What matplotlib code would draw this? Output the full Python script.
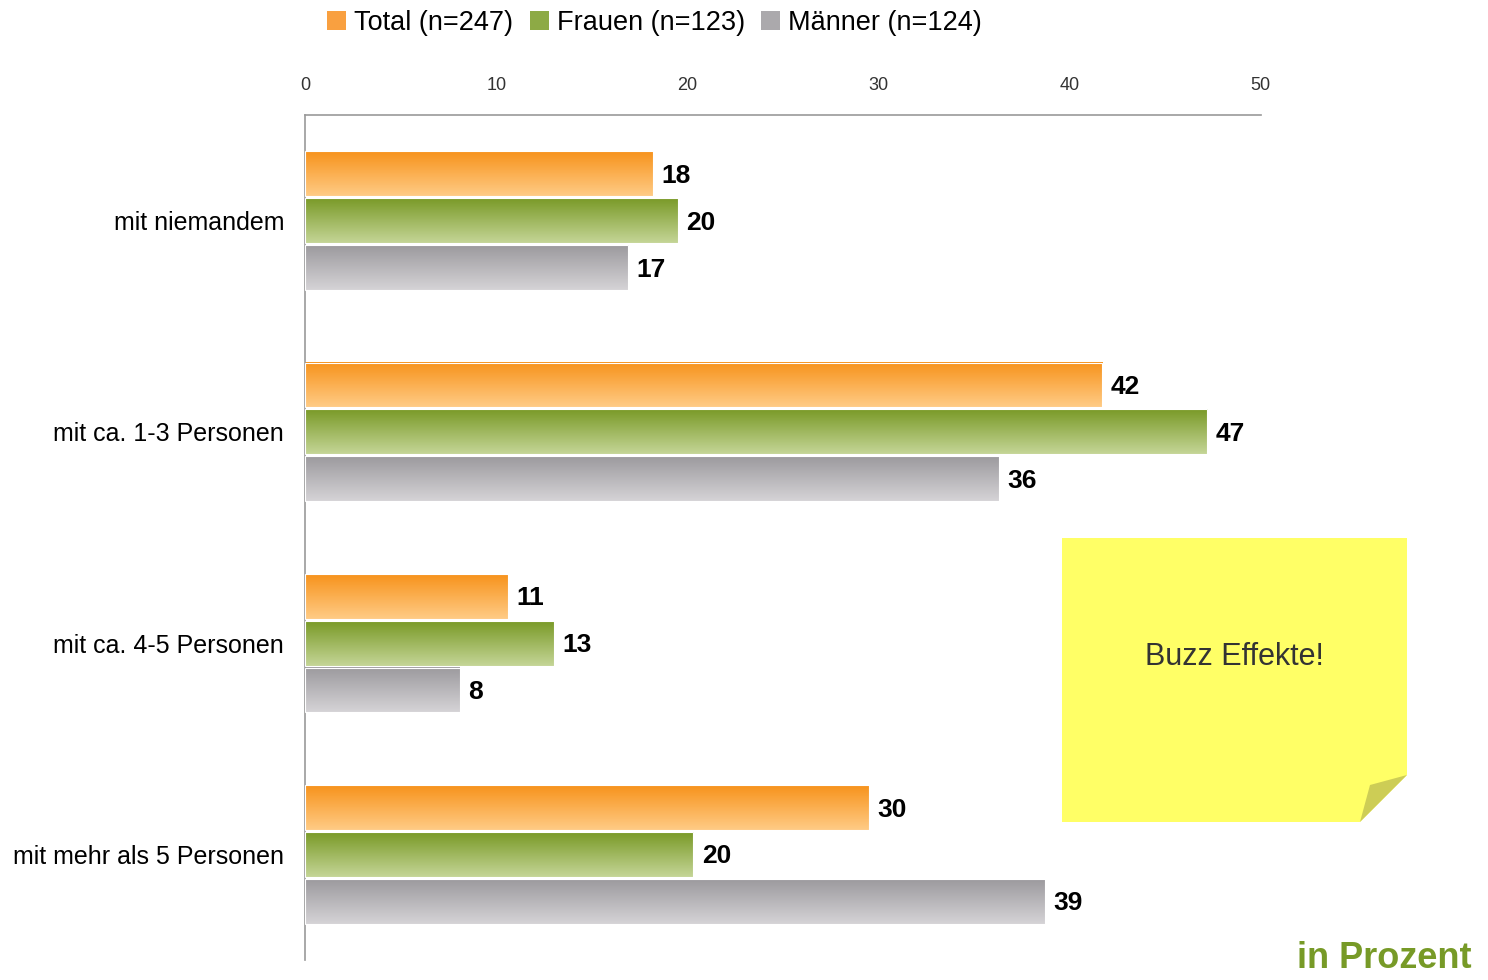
"""Bar chart: mit wie vielen Personen gesprochen (in Prozent)"""

import numpy as np
import matplotlib

matplotlib.use("Agg")
import matplotlib.pyplot as plt
import matplotlib.patches as mpatches
from matplotlib.colors import LinearSegmentedColormap

categories = ["mit niemandem", "mit ca. 1-3 Personen", "mit ca. 4-5 Personen", "mit mehr als 5 Personen"]
series_names = ["Total (n=247)", "Frauen (n=123)", "Männer (n=124)"]
total = [18.2, 41.7, 10.6, 29.5]
frauen = [19.5, 47.2, 13.0, 20.3]
maenner = [16.9, 36.3, 8.1, 38.7]
labels_total = [18, 42, 11, 30]
labels_frauen = [20, 47, 13, 20]
labels_maenner = [17, 36, 8, 39]
x_ticks = [0, 10, 20, 30, 40, 50]


def main():
    plt.rcParams["font.family"] = ["Liberation Sans", "DejaVu Sans"]
    fig = plt.figure(figsize=(14.88, 9.8), dpi=100)
    ax = fig.add_axes([0.205, 0.0204, 0.6423, 0.8623])

    # top color, bottom color, legend color
    grads = [
        ("#F7931C", "#FFCB85", "#F9A040"),
        ("#7A9A28", "#C4D596", "#8DAA45"),
        ("#9C9A9E", "#D5D3D6", "#ABA9AC"),
    ]
    values = [total, frauen, maenner]
    labels = [labels_total, labels_frauen, labels_maenner]

    pitch = 0.222
    height = 0.212
    y = np.arange(len(categories))
    for i, (vals, labs) in enumerate(zip(values, labels)):
        offs = (i - 1) * pitch
        bars = ax.barh(y + offs, vals, height=height, color="none", edgecolor="none")
        cmap = LinearSegmentedColormap.from_list("g%d" % i, [grads[i][0], grads[i][1]])
        grad = np.linspace(0, 1, 64).reshape(-1, 1)
        for b, lab in zip(bars, labs):
            x0, y0 = b.get_x(), b.get_y()
            w, h = b.get_width(), b.get_height()
            ax.imshow(grad, extent=[x0, x0 + w, y0 + h, y0], aspect="auto",
                      cmap=cmap, origin="upper", zorder=2)
            ax.add_patch(mpatches.Rectangle((x0, y0), w, h, fill=False,
                                            edgecolor="white", linewidth=0.8, zorder=3))
            ax.text(x0 + w + 0.45, y0 + h / 2 + 0.01, str(lab), ha="left", va="center",
                    fontsize=19, fontweight="bold", color="black")

    ax.set_xlim(0, 50)
    ax.set_ylim(3.5, -0.5)
    ax.set_yticks(y)
    ax.set_yticklabels(categories, fontsize=18)
    ax.set_xticks(x_ticks)
    ax.set_xticklabels([str(t) for t in x_ticks], fontsize=13, color="#333333",
                       family=["Liberation Sans Narrow", "Liberation Sans"])
    ax.xaxis.tick_top()
    ax.tick_params(axis="both", length=0)
    ax.tick_params(axis="x", pad=15)
    ax.tick_params(axis="y", pad=15)
    for s in ["right", "bottom"]:
        ax.spines[s].set_visible(False)
    for s in ["top", "left"]:
        ax.spines[s].set_color("#999999")
        ax.spines[s].set_linewidth(1.2)

    # legend
    patches = [mpatches.Patch(facecolor=g[2], edgecolor="none") for g in grads]
    fig.legend(patches, series_names, loc="center", bbox_to_anchor=(0.44, 0.977),
               ncol=3, frameon=False, fontsize=19.5, handlelength=0.7, handleheight=0.7,
               handletextpad=0.3, columnspacing=0.6)

    # sticky note
    W, H = 1488.0, 980.0
    note = [(1062, 538), (1407, 538), (1407, 775), (1360, 822), (1062, 822)]
    fig.patches.append(mpatches.Polygon([(px / W, 1 - py / H) for px, py in note],
                                        closed=True, facecolor="#FFFF66", edgecolor="none",
                                        transform=fig.transFigure))
    fold = [(1407, 775), (1370, 785), (1360, 822)]
    fig.patches.append(mpatches.Polygon([(px / W, 1 - py / H) for px, py in fold],
                                        closed=True, facecolor="#CDCD55", edgecolor="none",
                                        transform=fig.transFigure))
    fig.text(1234 / W, 1 - 657 / H, "Buzz Effekte!", ha="center", va="center",
             fontsize=22, color="#333333")

    fig.text(1472 / W, 1 - 968 / H, "in Prozent", ha="right", va="baseline",
             fontsize=26, fontweight="bold", color="#779A27")

    fig.savefig("out.png", dpi=100)
    plt.close(fig)


if __name__ == "__main__":
    main()
